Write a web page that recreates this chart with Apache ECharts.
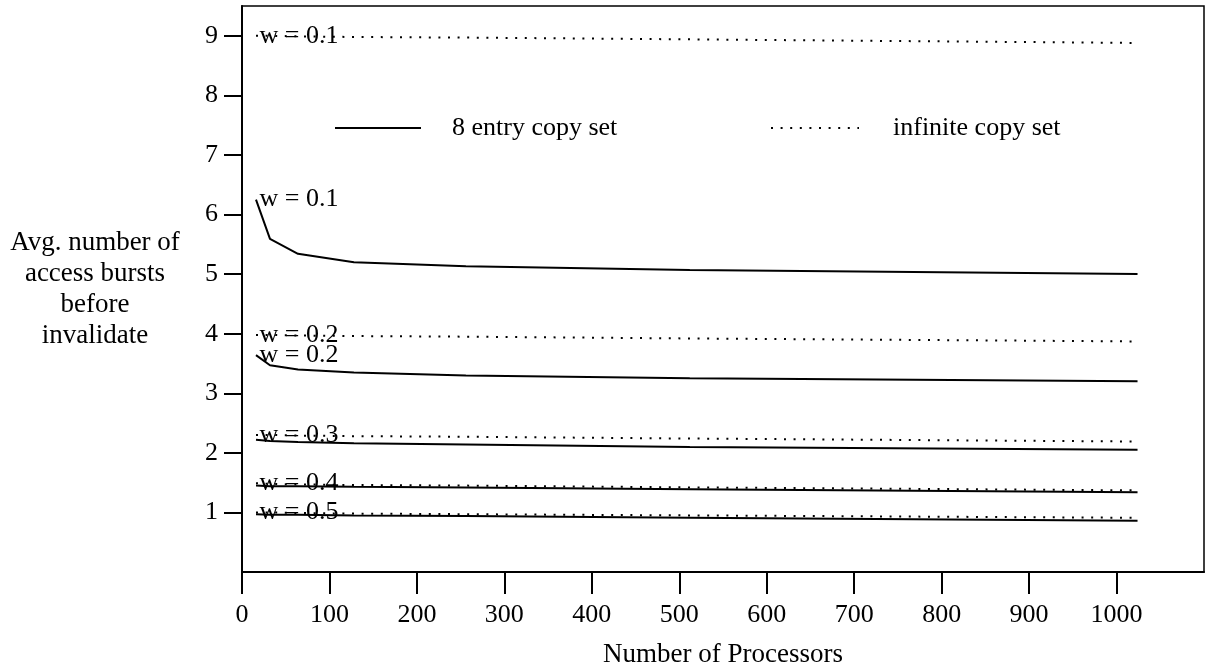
<!DOCTYPE html>
<html>
<head>
<meta charset="utf-8">
<script src="https://cdn.jsdelivr.net/npm/echarts@6/dist/echarts.min.js"></script>
<style>
  html, body { margin: 0; padding: 0; background: #fff; }
  #chart { width: 1207px; height: 669px; }
</style>
</head>
<body>
<div id="chart"></div>
<script>
// Number of processors at which each configuration was evaluated
const processors = [16, 32, 64, 128, 256, 512, 1024];

// 8 entry copy set (solid lines)
const eightW01 = [6.25, 5.59, 5.34, 5.20, 5.13, 5.07, 5.00];
const eightW02 = [3.64, 3.47, 3.40, 3.35, 3.30, 3.25, 3.20];
const eightW03 = [2.22, 2.20, 2.18, 2.16, 2.14, 2.10, 2.05];
const eightW04 = [1.45, 1.44, 1.44, 1.43, 1.42, 1.39, 1.34];
const eightW05 = [0.97, 0.96, 0.96, 0.95, 0.94, 0.91, 0.86];

// infinite copy set (dotted lines)
const infW01 = [9.00, 9.00, 8.99, 8.98, 8.97, 8.94, 8.88];
const infW02 = [3.98, 3.98, 3.97, 3.96, 3.95, 3.92, 3.87];
const infW03 = [2.30, 2.30, 2.29, 2.28, 2.27, 2.24, 2.19];
const infW04 = [1.49, 1.48, 1.47, 1.46, 1.45, 1.42, 1.37];
const infW05 = [1.00, 1.00, 0.99, 0.98, 0.97, 0.95, 0.91];

// write fractions used as curve labels
const weightLabels = ['w = 0.1', 'w = 0.2', 'w = 0.3', 'w = 0.4', 'w = 0.5'];

// axis tick values
const xTicks = [0, 100, 200, 300, 400, 500, 600, 700, 800, 900, 1000];
const yTicks = [1, 2, 3, 4, 5, 6, 7, 8, 9];

const SERIF = "'Liberation Serif', 'Times New Roman', 'DejaVu Serif', serif";
const SOLID_NAME = '8 entry copy set';
const DOTTED_NAME = 'infinite copy set';
const CLEAR = 'rgba(0,0,0,0)';

function buildSeries(name, values, dotted, labelText) {
  const data = processors.map((x, i) => {
    if (i === 0 && labelText) {
      return { value: [x, values[i]], label: { show: true, formatter: labelText } };
    }
    return [x, values[i]];
  });
  return {
    name: name,
    type: 'line',
    data: data,
    symbol: 'circle',
    symbolSize: 1,
    showSymbol: true,
    showAllSymbol: true,
    silent: true,
    lineStyle: {
      color: '#000',
      width: 2,
      type: dotted ? [2, 7.6] : 'solid'
    },
    itemStyle: { color: CLEAR, borderWidth: 0 },
    label: {
      show: false,
      position: 'right',
      distance: 3,
      offset: [0, 0],
      color: '#000',
      fontFamily: SERIF,
      fontSize: 26
    },
    z: dotted ? 3 : 2
  };
}

const series = [
  buildSeries(SOLID_NAME, eightW01, false, weightLabels[0]),
  buildSeries(SOLID_NAME, eightW02, false, weightLabels[1]),
  buildSeries(SOLID_NAME, eightW03, false, null),
  buildSeries(SOLID_NAME, eightW04, false, null),
  buildSeries(SOLID_NAME, eightW05, false, null),
  buildSeries(DOTTED_NAME, infW01, true, weightLabels[0]),
  buildSeries(DOTTED_NAME, infW02, true, weightLabels[1]),
  buildSeries(DOTTED_NAME, infW03, true, weightLabels[2]),
  buildSeries(DOTTED_NAME, infW04, true, weightLabels[3]),
  buildSeries(DOTTED_NAME, infW05, true, weightLabels[4])
];

const chart = echarts.init(document.getElementById('chart'), null, { renderer: 'canvas' });

const legendText = { fontFamily: SERIF, fontSize: 26, color: '#000' };

chart.setOption({
  animation: false,
  backgroundColor: '#fff',
  textStyle: { fontFamily: SERIF, color: '#000' },
  grid: {
    left: 242,
    right: 3,
    top: 6,
    bottom: 97,
    show: true,
    borderColor: '#000',
    borderWidth: 1.5,
    containLabel: false,
    outerBoundsMode: 'none'
  },
  legend: [
    {
      data: [SOLID_NAME],
      left: 329,
      top: 110,
      itemWidth: 86,
      itemHeight: 14,
      selectedMode: false,
      itemStyle: { color: CLEAR, borderWidth: 0, opacity: 0 },
      textStyle: Object.assign({ padding: [0, 0, 0, 26] }, legendText)
    },
    {
      data: [DOTTED_NAME],
      left: 765,
      top: 110,
      itemWidth: 88,
      itemHeight: 14,
      selectedMode: false,
      itemStyle: { color: CLEAR, borderWidth: 0, opacity: 0 },
      textStyle: Object.assign({ padding: [0, 0, 0, 29] }, legendText)
    }
  ],
  xAxis: {
    type: 'value',
    min: 0,
    max: 1100,
    interval: 100,
    name: 'Number of Processors',
    nameLocation: 'middle',
    nameGap: 69,
    nameTextStyle: { fontFamily: SERIF, fontSize: 27, color: '#000' },
    splitLine: { show: false },
    axisLine: { show: true, lineStyle: { color: '#000', width: 2 } },
    axisTick: { show: true, length: 22, customValues: xTicks, lineStyle: { color: '#000', width: 2 } },
    axisLabel: {
      customValues: xTicks,
      margin: 30,
      fontFamily: SERIF,
      fontSize: 26,
      color: '#000',
      formatter: v => (v > 1000 ? '' : String(v))
    }
  },
  yAxis: {
    type: 'value',
    min: 0,
    max: 9.5,
    interval: 1,
    name: 'Avg. number of\naccess bursts\nbefore\ninvalidate',
    nameLocation: 'middle',
    nameRotate: 0,
    nameGap: 147,
    nameTextStyle: {
      fontFamily: SERIF,
      fontSize: 27,
      lineHeight: 31,
      color: '#000',
      align: 'center',
      verticalAlign: 'middle'
    },
    splitLine: { show: false },
    axisLine: { show: true, lineStyle: { color: '#000', width: 2 } },
    axisTick: { show: true, length: 18, customValues: yTicks, lineStyle: { color: '#000', width: 2 } },
    axisLabel: {
      customValues: yTicks,
      margin: 24,
      fontFamily: SERIF,
      fontSize: 26,
      color: '#000',
      formatter: v => (v === 0 || v > 9 ? '' : String(v))
    }
  },
  series: series
});
</script>
</body>
</html>
